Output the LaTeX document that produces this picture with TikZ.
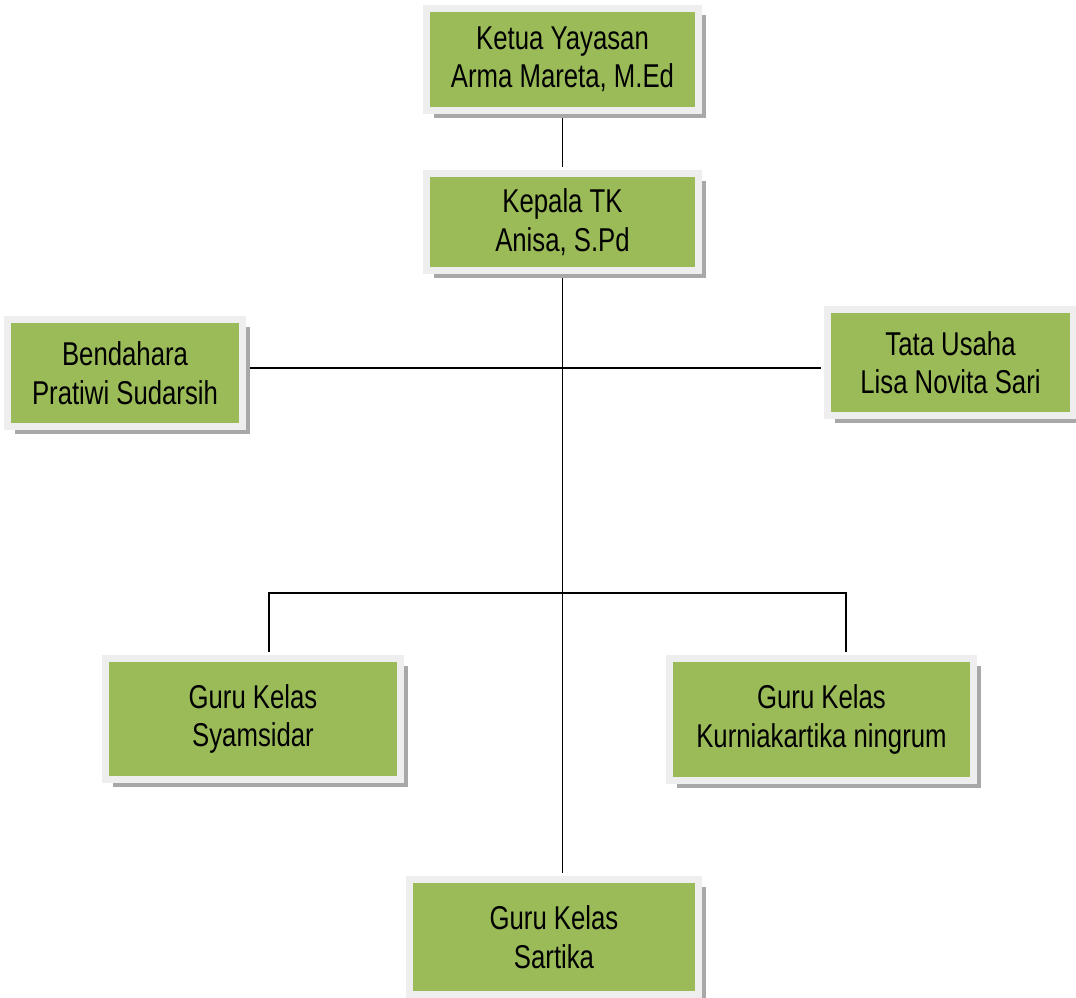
\documentclass[tikz,border=0pt]{standalone}
\usepackage{fontspec}
\setmainfont{Liberation Sans}[FakeStretch=0.78]
\usetikzlibrary{shadows}
\definecolor{boxgreen}{HTML}{9BBB59}
\definecolor{boxframe}{HTML}{EEEEEE}
\definecolor{boxshadow}{HTML}{A8A8A8}
\tikzset{
  orgbox/.style={rectangle, fill=boxgreen, draw=boxframe, line width=7pt,
    align=center, inner sep=0pt, text=black,
    font=\fontsize{33}{38.5}\selectfont,
    drop shadow={shadow xshift=7pt, shadow yshift=-7pt, fill=boxshadow, opacity=1}},
  conn/.style={draw=black, line width=1.8pt}
}
\begin{document}
\begin{tikzpicture}[x=1pt,y=-1pt]
\useasboundingbox (0,0) rectangle (1076,998);
\node[orgbox, minimum width=272pt, minimum height=102pt] (ketua) at (562.5,59.5) {Ketua Yayasan\\Arma Mareta, M.Ed};
\node[orgbox, minimum width=272pt, minimum height=97pt] (kepala) at (562.5,222) {Kepala TK\\Anisa, S.Pd};
\node[orgbox, minimum width=235pt, minimum height=107pt] (bendahara) at (125,373) {Bendahara\\Pratiwi Sudarsih};
\node[orgbox, minimum width=246pt, minimum height=106pt] (tata) at (950.5,362.5) {Tata Usaha\\Lisa Novita Sari};
\node[orgbox, minimum width=295pt, minimum height=121pt] (syam) at (253,719) {Guru Kelas\\Syamsidar};
\node[orgbox, minimum width=304pt, minimum height=122pt] (kurnia) at (821.5,719.5) {Guru Kelas\\Kurniakartika ningrum};
\node[orgbox, minimum width=289pt, minimum height=115pt] (sartika) at (554,937) {Guru Kelas\\Sartika};
\coordinate (hmid) at (562.5,368);
\coordinate (bl) at (269,593);
\coordinate (br) at (846,593);
\begin{scope}[on background layer/.try]
\end{scope}
\draw[conn] ([yshift=-3.5pt]ketua.south) -- ([yshift=3.5pt]kepala.north);
\draw[conn] ([yshift=-3.5pt]kepala.south) -- ([yshift=3.5pt]kepala.south |- sartika.north);
\draw[conn] ([xshift=3.5pt]bendahara.east |- hmid) -- ([xshift=-3.5pt]tata.west |- hmid);
\draw[conn] ([yshift=3.5pt]bl |- syam.north) -- (bl) -- (br) -- ([yshift=3.5pt]br |- kurnia.north);
\end{tikzpicture}
\end{document}
